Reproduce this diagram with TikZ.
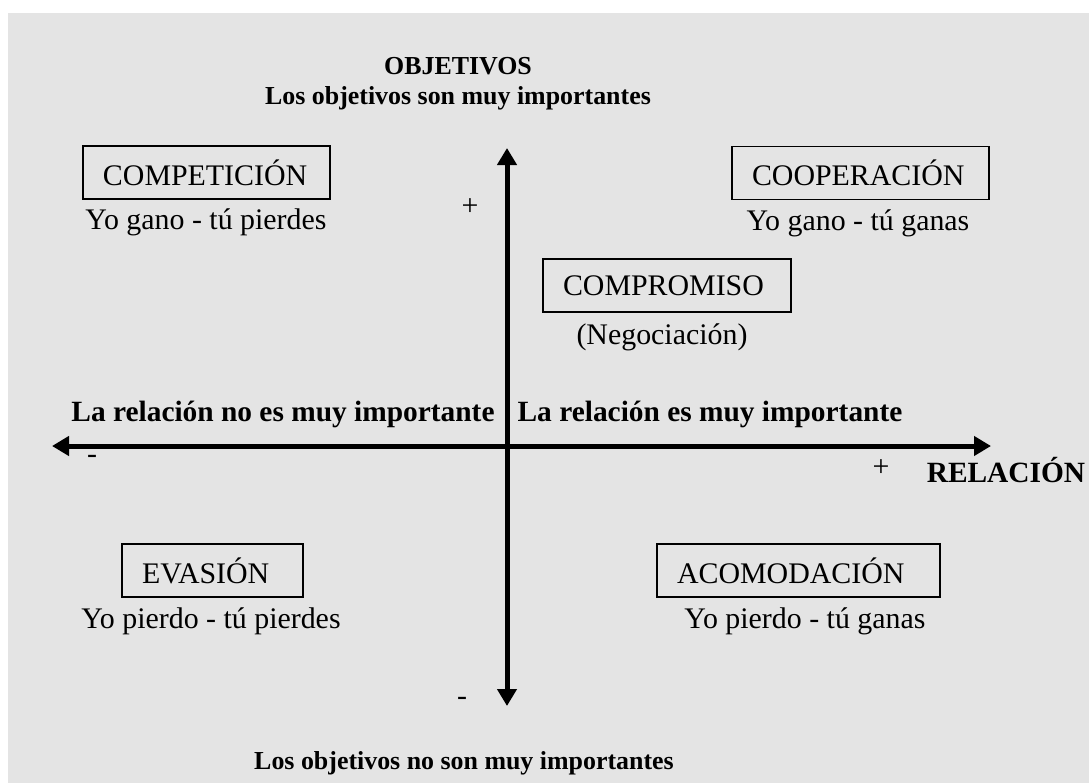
\documentclass[tikz,border=0pt]{standalone}
\usepackage{fontspec}
\setmainfont{Liberation Serif}
\usetikzlibrary{arrows.meta}
\definecolor{bgc}{HTML}{E4E4E4}
\tikzset{
  lbl/.style={font=\fontsize{30}{34}\selectfont, inner sep=0pt, anchor=base},
  blbl/.style={lbl, font=\fontsize{29.5}{34}\selectfont\bfseries},
  tlbl/.style={lbl, font=\fontsize{26}{30}\selectfont\bfseries},
  qbox/.style={draw, line width=1.1bp, font=\fontsize{30}{34}\selectfont,
    inner xsep=20bp, inner ysep=0pt, minimum height=53bp, align=left},
  axis/.style={line width=5bp, -{Triangle[length=17bp,width=19bp]}},
}
\begin{document}
\begin{tikzpicture}[x=1bp,y=-1bp]
\useasboundingbox (0,0) rectangle (1089,783);
\fill[bgc] (8,13) rectangle (1089,783);
% axes
\coordinate (top) at (507,148);
\coordinate (bot) at (507,706);
\coordinate (lft) at (52,446);
\coordinate (rgt) at (991,446);
\coordinate (ctr) at (507,446);
\draw[axis] (ctr) -- (top);
\draw[axis] (ctr) -- (bot);
\draw[axis] (ctr) -- (lft);
\draw[axis] (ctr) -- (rgt);
% titles
\node[tlbl] (obj) at (458,75) {OBJETIVOS};
\node[tlbl] (objhi) at (458,105) {Los objetivos son muy importantes};
\node[tlbl] (objlo) at (464,769) {Los objetivos no son muy importantes};
\node[blbl] (relno) at (283,421) {La relación no es muy importante};
\node[blbl] (relsi) at (710,421) {La relación es muy importante};
\node[blbl] (rel) at (1006,482) {RELACIÓN};
% signs
\node[lbl] (ptop) at (470,215) {+};
\node[lbl] (mlft) at (92,463) {-};
\node[lbl] (prgt) at (881,476) {+};
\node[lbl] (mbot) at (462,705) {-};
% boxes
\node[qbox, text width=207bp] (comp) at (206.5,172.5) {COMPETICIÓN};
\node[lbl] (compt) at (206,229) {Yo gano - tú pierdes};
\node[qbox, text width=217bp] (coop) at (860.5,173) {COOPERACIÓN};
\node[lbl] (coopt) at (858,230) {Yo gano - tú ganas};
\node[qbox, text width=208bp] (compr) at (667,285.5) {COMPROMISO};
\node[lbl] (comprt) at (662,344) {(Negociación)};
\node[qbox, text width=141bp] (eva) at (212.5,570.5) {EVASIÓN};
\node[lbl] (evat) at (211,628) {Yo pierdo - tú pierdes};
\node[qbox, text width=243bp] (aco) at (798.5,570.5) {ACOMODACIÓN};
\node[lbl] (acot) at (805,628) {Yo pierdo - tú ganas};
\end{tikzpicture}
\end{document}
